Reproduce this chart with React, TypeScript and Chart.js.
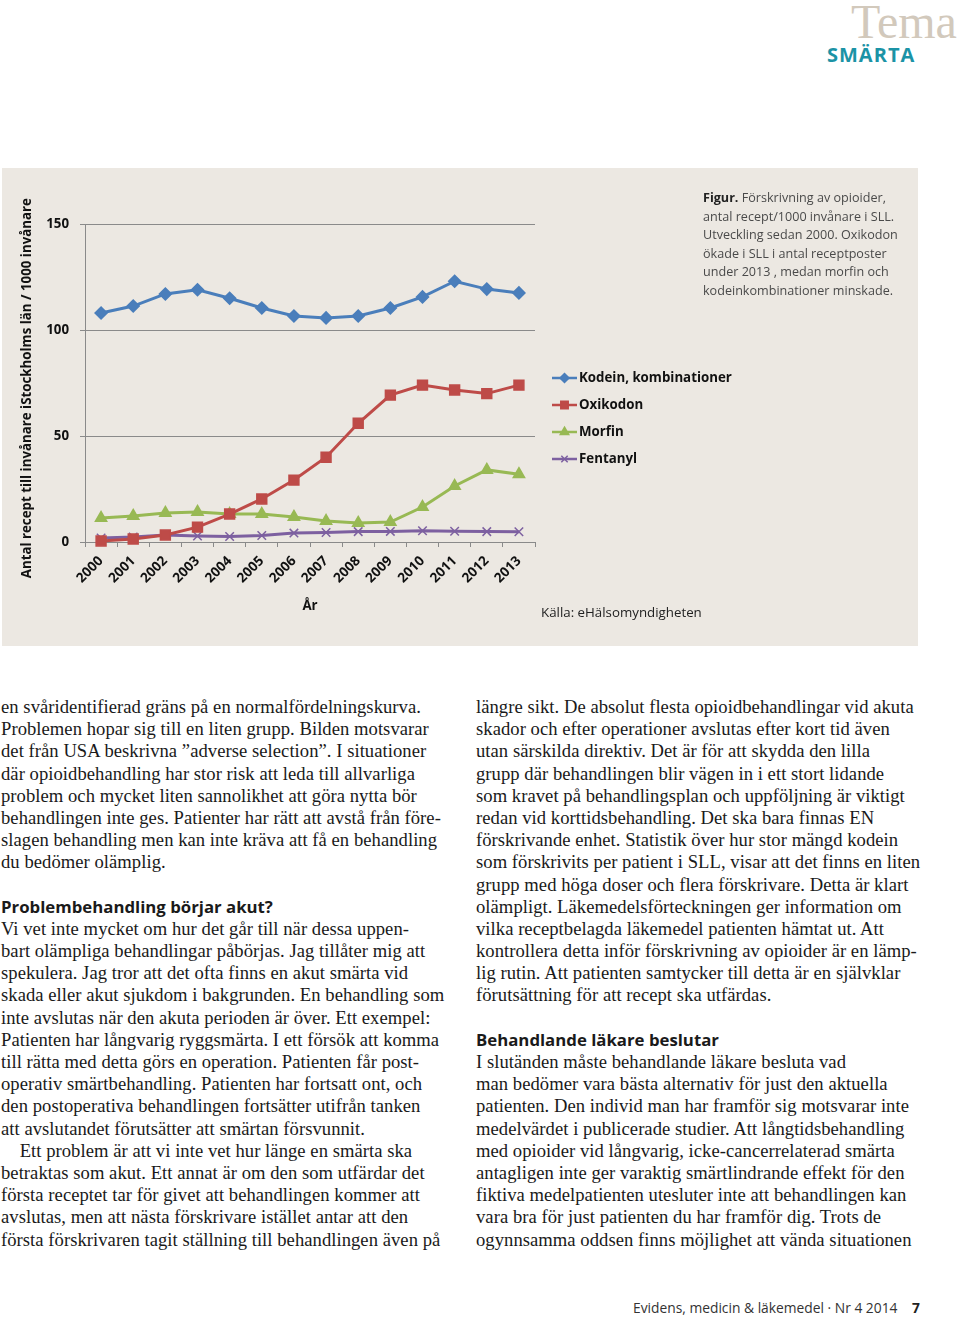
import React, { useEffect, useRef } from "react";
import { Chart, registerables } from "chart.js";
import { drawPoint } from "chart.js/helpers";

Chart.register(...registerables);

const years = ["2000", "2001", "2002", "2003", "2004", "2005", "2006", "2007", "2008", "2009", "2010", "2011", "2012", "2013"];
const kodein = [108, 111.3, 117, 119, 115, 110.4, 106.6, 105.7, 106.6, 110.4, 115.6, 123, 119.3, 117.5];
const oxikodon = [0.5, 1.4, 3.3, 7, 13.2, 20.3, 29.2, 40, 56, 69.3, 74, 71.7, 70, 74];
const morfin = [11.3, 12.3, 13.7, 14.2, 13.2, 13.2, 11.8, 9.9, 9, 9.4, 16.5, 26.4, 34, 32];
const fentanyl = [1.9, 2.4, 3.3, 2.8, 2.6, 3.1, 4.2, 4.5, 4.9, 5, 5.3, 5.1, 4.9, 4.8];
const seriesNames = ["Kodein, kombinationer", "Oxikodon", "Morfin", "Fentanyl"];
const yTicks = [0, 50, 100, 150];

const leftLines = [
  "en svåridentifierad gräns på en normalfördelningskurva.",
  "Problemen hopar sig till en liten grupp. Bilden motsvarar",
  "det från USA beskrivna ”adverse selection”. I situationer",
  "där opioidbehandling har stor risk att leda till allvarliga",
  "problem och mycket liten sannolikhet att göra nytta bör",
  "behandlingen inte ges. Patienter har rätt att avstå från före-",
  "slagen behandling men kan inte kräva att få en behandling",
  "du bedömer olämplig.",
  "",
  "#Problembehandling börjar akut?",
  "Vi vet inte mycket om hur det går till när dessa uppen-",
  "bart olämpliga behandlingar påbörjas. Jag tillåter mig att",
  "spekulera. Jag tror att det ofta finns en akut smärta vid",
  "skada eller akut sjukdom i bakgrunden. En behandling som",
  "inte avslutas när den akuta perioden är över. Ett exempel:",
  "Patienten har långvarig ryggsmärta. I ett försök att komma",
  "till rätta med detta görs en operation. Patienten får post-",
  "operativ smärtbehandling. Patienten har fortsatt ont, och",
  "den postoperativa behandlingen fortsätter utifrån tanken",
  "att avslutandet förutsätter att smärtan försvunnit.",
  "\u2003Ett problem är att vi inte vet hur länge en smärta ska",
  "betraktas som akut. Ett annat är om den som utfärdar det",
  "första receptet tar för givet att behandlingen kommer att",
  "avslutas, men att nästa förskrivare istället antar att den",
  "första förskrivaren tagit ställning till behandlingen även på",
];

const rightLines = [
  "längre sikt. De absolut flesta opioidbehandlingar vid akuta",
  "skador och efter operationer avslutas efter kort tid även",
  "utan särskilda direktiv. Det är för att skydda den lilla",
  "grupp där behandlingen blir vägen in i ett stort lidande",
  "som kravet på behandlingsplan och uppföljning är viktigt",
  "redan vid korttidsbehandling. Det ska bara finnas EN",
  "förskrivande enhet. Statistik över hur stor mängd kodein",
  "som förskrivits per patient i SLL, visar att det finns en liten",
  "grupp med höga doser och flera förskrivare. Detta är klart",
  "olämpligt. Läkemedelsförteckningen ger information om",
  "vilka receptbelagda läkemedel patienten hämtat ut. Att",
  "kontrollera detta inför förskrivning av opioider är en lämp-",
  "lig rutin. Att patienten samtycker till detta är en självklar",
  "förutsättning för att recept ska utfärdas.",
  "",
  "#Behandlande läkare beslutar",
  "I slutänden måste behandlande läkare besluta vad",
  "man bedömer vara bästa alternativ för just den aktuella",
  "patienten. Den individ man har framför sig motsvarar inte",
  "medelvärdet i publicerade studier. Att långtidsbehandling",
  "med opioider vid långvarig, icke-cancerrelaterad smärta",
  "antagligen inte ger varaktig smärtlindrande effekt för den",
  "fiktiva medelpatienten utesluter inte att behandlingen kan",
  "vara bra för just patienten du har framför dig. Trots de",
  "ogynnsamma oddsen finns möjlighet att vända situationen",
];

const captionLines = [
  "Förskrivning av opioider,",
  "antal recept/1000 invånare i SLL.",
  "Utveckling sedan 2000. Oxikodon",
  "ökade i SLL i antal receptposter",
  "under 2013 , medan morfin och",
  "kodeinkombinationer minskade.",
];

const SANS = "'Open Sans', 'Noto Sans', sans-serif";
const SERIF = "'Liberation Serif', 'DejaVu Serif', serif";

const legendPlugin = {
  id: "sideLegend",
  afterDraw(chart: any) {
    const ctx = chart.ctx;
    const x0 = 550;
    const y0 = 210;
    const gap = 27;
    chart.data.datasets.forEach((ds: any, i: number) => {
      const y = y0 + i * gap;
      ctx.save();
      ctx.strokeStyle = ds.borderColor;
      ctx.lineWidth = 2.5;
      ctx.beginPath();
      ctx.moveTo(x0, y);
      ctx.lineTo(x0 + 25, y);
      ctx.stroke();
      ctx.fillStyle = ds.backgroundColor;
      ctx.strokeStyle = ds.borderColor;
      ctx.lineWidth = 1.5;
      drawPoint(ctx, { pointStyle: ds.pointStyle, radius: ds.pointRadius * 0.75, borderWidth: 1.5, rotation: 0 }, x0 + 12.5, y);
      ctx.fillStyle = "#111";
      ctx.font = `bold 13.3px ${SANS}`;
      ctx.textBaseline = "middle";
      ctx.textAlign = "left";
      ctx.fillText(ds.label, x0 + 27, y);
      ctx.restore();
    });
  },
};

function ChartPanel() {
  const ref = useRef<HTMLCanvasElement | null>(null);
  useEffect(() => {
    if (!ref.current) return;
    const mk = (label: string, data: number[], color: string, style: string, r: number) => ({
      label,
      data,
      borderColor: color,
      backgroundColor: color,
      pointBackgroundColor: color,
      pointBorderColor: color,
      pointStyle: style,
      pointRadius: r,
      pointBorderWidth: 1.5,
      borderWidth: 3,
      tension: 0,
      clip: false as any,
    });
    const chart = new Chart(ref.current, {
      type: "line",
      data: {
        labels: years,
        datasets: [
          mk(seriesNames[0], kodein, "#4a7ebb", "rectRot", 6),
          mk(seriesNames[1], oxikodon, "#be4b48", "rect", 7),
          mk(seriesNames[2], morfin, "#98b954", "triangle", 6.5),
          mk(seriesNames[3], fentanyl, "#7d60a0", "crossRot", 6),
        ],
      },
      options: {
        responsive: false,
        animation: false,
        devicePixelRatio: 1,
        layout: { padding: { left: 0, top: 56, right: 383, bottom: 0 } },
        plugins: { legend: { display: false }, tooltip: { enabled: false } },
        scales: {
          x: {
            type: "category",
            offset: true,
            afterFit: (s: any) => {
              s.height = 104;
            },
            grid: { offset: true, drawOnChartArea: false, drawTicks: true, tickLength: 5, color: "#8a8a8a" },
            border: { color: "#8a8a8a", width: 1 },
            ticks: {
              minRotation: 45,
              maxRotation: 45,
              autoSkip: false,
              padding: 6,
              color: "#111",
              font: { family: SANS, size: 13.6, weight: "bold" },
            },
            title: {
              display: true,
              text: "År",
              color: "#111",
              font: { family: SANS, size: 13.3, weight: "bold" },
              padding: { top: 0, bottom: 32 },
            },
          },
          y: {
            min: 0,
            max: 150,
            afterFit: (s: any) => {
              s.width = 83;
            },
            afterBuildTicks: (s: any) => {
              s.ticks = yTicks.map((v) => ({ value: v }));
            },
            grid: { color: "#8a8a8a", tickLength: 5, lineWidth: 1 },
            border: { color: "#8a8a8a", width: 1 },
            ticks: {
              padding: 11,
              color: "#111",
              font: { family: SANS, size: 13.3, weight: "bold" },
            },
            title: {
              display: true,
              text: "Antal recept till invånare iStockholms län / 1000 invånare\u00a0\u00a0\u00a0",
              color: "#111",
              font: { family: SANS, size: 13.3, weight: "bold" },
              padding: { top: 17, bottom: 0 },
            },
          },
        },
      },
      plugins: [legendPlugin],
    } as any);
    return () => chart.destroy();
  }, []);
  return <canvas ref={ref} width={916} height={478} style={{ display: "block", width: 916, height: 478 }} />;
}

function Column({ lines, left }: { lines: string[]; left: number }) {
  return (
    <div style={{ position: "absolute", left, top: 696 }}>
      {lines.map((l, i) => {
        const heading = l.startsWith("#");
        return (
          <div
            key={i}
            style={{
              height: 22.2,
              lineHeight: "22.2px",
              whiteSpace: "nowrap",
              fontFamily: heading ? SANS : SERIF,
              fontWeight: heading ? 700 : 400,
              fontSize: heading ? 16.8 : 18.6,
              letterSpacing: heading ? 0 : 0.05,
              color: "#1a1a1a",
            }}
          >
            {heading ? l.slice(1) : l}
          </div>
        );
      })}
    </div>
  );
}

export default function App() {
  return (
    <div style={{ position: "absolute", left: 0, top: 0, width: 960, height: 1318, background: "#fff", overflow: "hidden" }}>
      <div style={{ position: "absolute", left: 851, top: -5, fontFamily: SERIF, fontSize: 48, color: "#d2c9bc", lineHeight: "54px" }}>Tema</div>
      <div style={{ position: "absolute", left: 827, top: 43, fontFamily: SANS, fontWeight: 700, fontSize: 20, letterSpacing: 1, color: "#1b93a6", lineHeight: "24px" }}>SMÄRTA</div>

      <div style={{ position: "absolute", left: 2, top: 168, width: 916, height: 478, background: "#ece8e2" }}>
        <ChartPanel />
        <div style={{ position: "absolute", left: 701, top: 21, fontFamily: SANS, fontSize: 12.6, lineHeight: "18.6px", color: "#4a4a4a", whiteSpace: "nowrap" }}>
          {captionLines.map((l, i) => (
            <div key={i}>
              {i === 0 ? <b style={{ color: "#222" }}>Figur. </b> : null}
              {l}
            </div>
          ))}
        </div>
        <div style={{ position: "absolute", left: 539, top: 435, fontFamily: SANS, fontSize: 13.3, lineHeight: "18px", color: "#222", whiteSpace: "nowrap" }}>
          Källa: eHälsomyndigheten
        </div>
      </div>

      <Column lines={leftLines} left={1} />
      <Column lines={rightLines} left={476} />

      <div style={{ position: "absolute", left: 633, top: 1299, fontFamily: SANS, fontSize: 13.8, lineHeight: "18px", color: "#333", whiteSpace: "nowrap" }}>
        Evidens, medicin &amp; läkemedel · Nr 4 2014
      </div>
      <div style={{ position: "absolute", left: 912, top: 1299, fontFamily: SANS, fontSize: 13.8, fontWeight: 700, lineHeight: "18px", color: "#222" }}>7</div>
    </div>
  );
}
